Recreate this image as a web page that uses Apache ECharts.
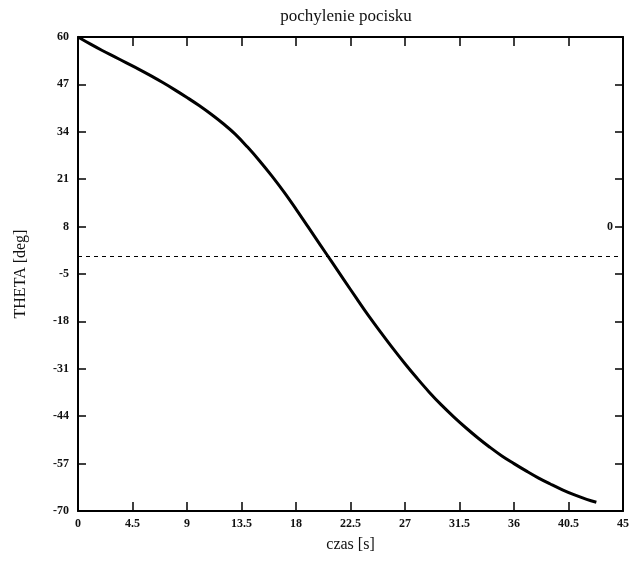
<!DOCTYPE html>
<html>
<head>
<meta charset="utf-8">
<script src="https://cdn.jsdelivr.net/npm/echarts@6/dist/echarts.min.js"></script>
<style>
  html, body { margin: 0; padding: 0; background: #fff; }
  #chart { width: 636px; height: 564px; }
</style>
</head>
<body>
<div id="chart"></div>
<script>
// czas [s]
const czas = [0, 1, 2, 3, 4, 5, 6, 7, 8, 9, 10, 11, 12, 13, 14, 15, 16, 17, 18, 19, 20,
  21, 22, 23, 24, 25, 26, 27, 28, 29, 30, 31, 32, 33, 34, 35, 36, 37, 38, 39, 40, 41, 42, 42.8]
// THETA [deg]
const theta = [60, 58.1, 56.3, 54.6, 52.9, 51.2, 49.4, 47.5, 45.5, 43.4, 41.2, 38.8, 36.2, 33.3, 29.8, 26.0,
  21.9, 17.5, 12.8, 7.9, 3.0, -1.9, -6.8, -11.7, -16.5, -21.0, -25.4, -29.6, -33.6, -37.4, -40.9,
  -44.1, -47.1, -49.9, -52.5, -54.9, -57.0, -59.0, -60.9, -62.6, -64.2, -65.6, -66.8, -67.6]

const xTicks = [0, 4.5, 9, 13.5, 18, 22.5, 27, 31.5, 36, 40.5, 45]
const yTicks = [-70, -57, -44, -31, -18, -5, 8, 21, 34, 47, 60]
// odd label printed on the right frame
const rightLabels = { 8: '0' }

const serif = '"Liberation Serif", "DejaVu Serif", serif'

const chart = echarts.init(document.getElementById('chart'))

const axisLine = { show: true, onZero: false, lineStyle: { color: '#000', width: 2 } }

const option = {
  animation: false,
  backgroundColor: '#fff',
  title: {
    text: 'pochylenie pocisku',
    left: 341,
    top: 3,
    textAlign: 'center',
    textStyle: { fontFamily: serif, fontWeight: 'normal', fontSize: 17, color: '#111' }
  },
  grid: { left: 78, right: 13, top: 37, bottom: 53 },
  xAxis: [{
    type: 'value',
    min: 0,
    max: 45,
    name: 'czas [s]',
    nameLocation: 'middle',
    nameGap: 26,
    nameTextStyle: { fontFamily: serif, fontSize: 16, color: '#111' },
    axisLine: axisLine,
    axisTick: { show: true, inside: true, length: 9, customValues: xTicks, lineStyle: { color: '#000', width: 1.5 } },
    axisLabel: { customValues: xTicks, margin: 7, fontFamily: serif, fontWeight: 'bold', fontSize: 12, color: '#111' },
    splitLine: { show: false }
  }, {
    type: 'value',
    position: 'top',
    min: 0,
    max: 45,
    axisLine: axisLine,
    axisTick: { show: true, inside: true, length: 9, customValues: xTicks, lineStyle: { color: '#000', width: 1.5 } },
    axisLabel: { show: false },
    splitLine: { show: false }
  }],
  yAxis: [{
    type: 'value',
    min: -70,
    max: 60,
    name: 'THETA [deg]',
    nameLocation: 'middle',
    nameGap: 49,
    nameTextStyle: { fontFamily: serif, fontSize: 16, color: '#111' },
    axisLine: axisLine,
    axisTick: { show: true, inside: true, length: 8, customValues: yTicks, lineStyle: { color: '#000', width: 1.5 } },
    axisLabel: { customValues: yTicks, margin: 9, fontFamily: serif, fontWeight: 'bold', fontSize: 12, color: '#111' },
    splitLine: { show: false }
  }, {
    type: 'value',
    position: 'right',
    min: -70,
    max: 60,
    axisLine: axisLine,
    axisTick: { show: true, inside: true, length: 8, customValues: yTicks, lineStyle: { color: '#000', width: 1.5 } },
    axisLabel: {
      inside: true,
      margin: 10,
      customValues: yTicks,
      formatter: v => rightLabels[v] || '',
      fontFamily: serif, fontWeight: 'bold', fontSize: 12, color: '#111'
    },
    splitLine: { show: false }
  }],
  series: [{
    type: 'line',
    xAxisIndex: 0,
    yAxisIndex: 0,
    data: czas.map((t, i) => [t, theta[i]]),
    smooth: 0.4,
    showSymbol: false,
    lineStyle: { color: '#000', width: 3 },
    markLine: {
      silent: true,
      symbol: 'none',
      label: { show: false },
      lineStyle: { color: '#000', width: 1, type: [4, 4] },
      data: [{ yAxis: 0 }]
    }
  }]
}

chart.setOption(option)
</script>
</body>
</html>
